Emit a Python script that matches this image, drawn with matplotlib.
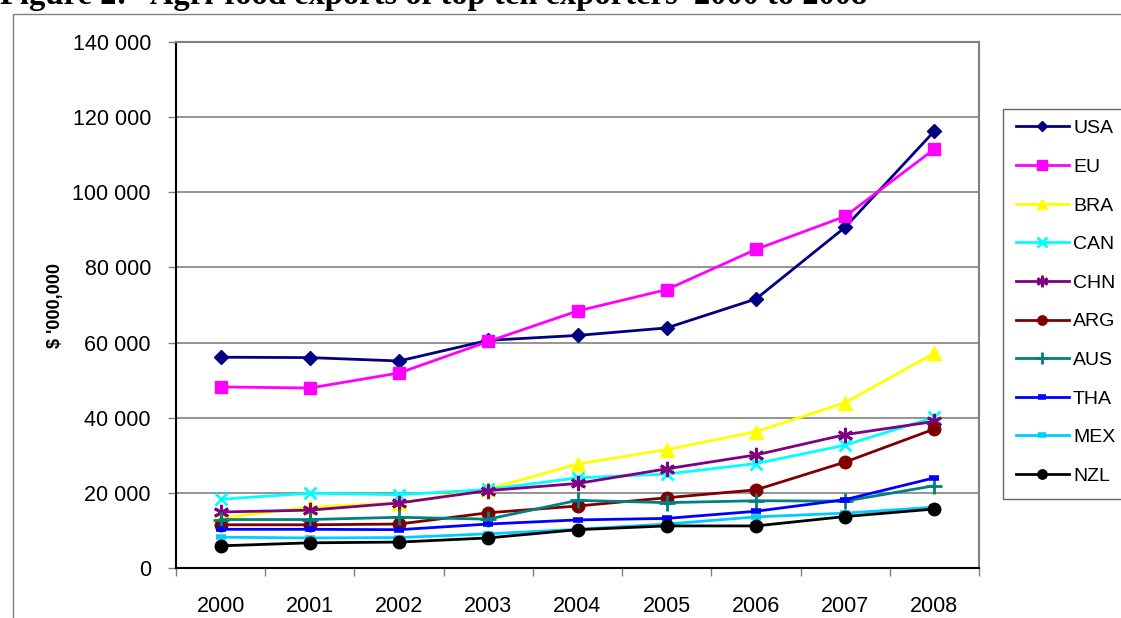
import matplotlib
matplotlib.use("Agg")
import matplotlib.pyplot as plt
from matplotlib.patches import Rectangle
from matplotlib.ticker import FuncFormatter

years = ["2000", "2001", "2002", "2003", "2004", "2005", "2006", "2007", "2008"]

USA = [56100, 56000, 55100, 60600, 61900, 63900, 71600, 90700, 116300]
EU = [48200, 47900, 51900, 60300, 68400, 74100, 84800, 93600, 111500]
BRA = [13300, 16200, 17300, 21000, 27700, 31500, 36300, 44000, 57200]
CAN = [18300, 19900, 19500, 20900, 24000, 25000, 27800, 32700, 40100]
CHN = [14900, 15400, 17300, 20600, 22500, 26400, 30100, 35500, 39000]
ARG = [11500, 11500, 11700, 14700, 16500, 18700, 20800, 28200, 37000]
AUS = [12900, 12900, 13500, 13000, 18000, 17400, 17900, 17800, 21900]
THA = [10300, 10300, 10200, 11700, 12800, 13200, 15100, 18200, 24000]
MEX = [8200, 8000, 8100, 9100, 10300, 11700, 13600, 14600, 16200]
NZL = [5900, 6700, 6900, 8000, 10200, 11200, 11200, 13700, 15700]

series = [
    ("USA", USA, "#000080", "D", 7, 2.0),
    ("EU", EU, "#FF00FF", "s", 9, 2.0),
    ("BRA", BRA, "#FFFF00", "^", 10, 2.0),
    ("CAN", CAN, "#00FFFF", "x", 9, 2.0),
    ("CHN", CHN, "#800080", (6, 2, 0), 11, 2.0),
    ("ARG", ARG, "#800000", "o", 9, 2.0),
    ("AUS", AUS, "#008080", "+", 11, 2.0),
    ("THA", THA, "#0000FF", "_", 7, 2.0),
    ("MEX", MEX, "#00CCFF", "_", 7, 2.0),
    ("NZL", NZL, "#000000", "o", 9, 2.0),
]

plt.rcParams["font.family"] = ["Liberation Sans", "DejaVu Sans"]

fig = plt.figure(figsize=(11.21, 6.18), dpi=100)
W, H = 1121, 618

# outer chart frame (cropped by the picture edges)
fig.patches.append(Rectangle((13 / W, -0.2), 1.2, 1 - 14 / H + 0.2,
                             transform=fig.transFigure, fill=False,
                             edgecolor="#808080", linewidth=1.0, zorder=0))

fig.text(0.0, 1 - 4 / H, "Figure 2:   Agri-food exports of top ten exporters  2000 to 2008",
         fontsize=23.5, fontweight="bold", family=["Liberation Serif", "DejaVu Serif"],
         ha="left", va="baseline")

ax = fig.add_axes([176 / W, 1 - 568 / H, (979 - 176) / W, (568 - 42) / H])

x = list(range(len(years)))
handles = []
for name, vals, col, mk, ms, lw in series:
    mew = 2.0 if mk in ("x", "+", "_") or isinstance(mk, tuple) else 1.0
    if mk == "_":
        mew = 4.0
    h, = ax.plot(x, vals, color=col, marker=mk, markersize=ms, linewidth=lw,
                 markeredgewidth=mew, markeredgecolor=col, markerfacecolor=col,
                 label=name, clip_on=False)
    handles.append(h)

ax.set_xlim(-0.5, 8.5)
ax.set_ylim(0, 140000)
ax.set_yticks(range(0, 140001, 20000))
ax.yaxis.set_major_formatter(FuncFormatter(lambda v, p: f"{int(v):,}".replace(",", " ")))
ax.grid(axis="y", color="#808080", linewidth=1.2)
ax.set_axisbelow(True)

ax.set_xticks([i - 0.5 for i in range(len(years) + 1)])
ax.set_xticklabels([])
ax.set_xticks(x, minor=True)
ax.set_xticklabels(years, minor=True)
ax.tick_params(axis="x", which="minor", length=0, labelsize=15.5, pad=20)
ax.tick_params(axis="x", which="major", length=6, width=1, color="#808080")
ax.tick_params(axis="y", length=6, width=1, color="#808080", labelsize=15.5, pad=12)

for s in ("left", "bottom"):
    ax.spines[s].set_color("#000000")
    ax.spines[s].set_linewidth(1.5)
for s in ("top", "right"):
    ax.spines[s].set_color("#808080")
    ax.spines[s].set_linewidth(1.5)

ax.set_ylabel("$ '000,000", fontsize=13, fontweight="bold", labelpad=6)

# legend box (extends past the right edge, as in the reference)
fig.patches.append(Rectangle((1003 / W, 1 - 499 / H), 0.2, (499 - 109) / H,
                             transform=fig.transFigure, fill=True, facecolor="white",
                             edgecolor="#666666", linewidth=1.0, zorder=1))
leg = fig.legend(handles=handles, loc="upper left",
                 bbox_to_anchor=(1005 / W, 1 - 109 / H), bbox_transform=fig.transFigure,
                 fontsize=14, frameon=False,
                 handlelength=2.75, handletextpad=0.2, labelspacing=1.08,
                 borderpad=0.55, borderaxespad=0, markerscale=0.75)

fig.savefig("out.png", dpi=100)
